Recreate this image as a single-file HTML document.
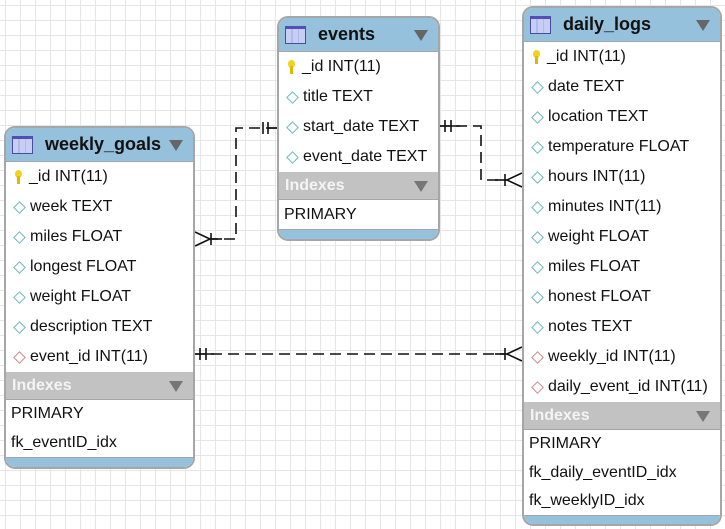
<!DOCTYPE html>
<html><head><meta charset="utf-8"><style>
*{margin:0;padding:0;box-sizing:border-box}
body{width:725px;height:529px;overflow:hidden;background:#fff;position:relative;font-family:"Liberation Sans",Arial,sans-serif}
.grid{position:absolute;left:0;top:0;width:725px;height:529px;
background-image:linear-gradient(to right,#e6e6e6 1px,transparent 1px),linear-gradient(to bottom,#e6e6e6 1px,transparent 1px);
background-size:15px 15px;background-position:5px 5px}
.t{position:absolute;border:2px solid #a6a6a6;border-radius:11px;overflow:hidden;background:#fff;display:flex;flex-direction:column}
.h{background:#95c1dc;display:flex;align-items:center;font-weight:bold;font-size:18px;color:#111;border-bottom:1px solid #a6a6a6;flex:none;position:relative}
.ic{width:21px;height:18px;margin:0 12px 0 6px;border:1px solid #4a4aa0;background:linear-gradient(to right,#c8cdf4 0,#c8cdf4 30%,#9aa3e0 30%,#9aa3e0 33%,#c8cdf4 33%,#c8cdf4 63%,#9aa3e0 63%,#9aa3e0 66%,#c8cdf4 66%);border-top:3px solid #5050b8}
.tri{position:absolute;right:10px;top:50%;margin-top:-5px;width:0;height:0;border-left:7px solid transparent;border-right:7px solid transparent;border-top:11px solid #666}
.r{height:30px;display:flex;align-items:center;font-size:16px;color:#111;flex:none}
.r .d{width:9px;height:9px;border:1.5px solid #6bb8bd;transform:rotate(45deg);margin:0 6px 0 9px;background:#fff}
.r .d.f{border-color:#d08a8a}
.r .k{width:7px;height:14px;margin:0 7px 0 9px;position:relative}
.r .k:before{content:"";position:absolute;left:0;top:0;width:7px;height:8px;border-radius:50%;background:#f1d21d}
.r .k:after{content:"";position:absolute;left:2px;top:6px;width:3px;height:8px;background:#e0b800}
.ix{height:28px;background:#c2c2c2;color:#f4f4f4;font-weight:bold;font-size:16px;display:flex;align-items:center;padding-left:6px;position:relative;flex:none;border-bottom:1px solid #a6a6a6}
.ix .tri{border-top-color:#777}
.ir{display:flex;align-items:center;font-size:16px;color:#111;padding-left:5px;flex:none}
.ft{background:#95c1dc;flex:1;border-top:1px solid #a6a6a6}
</style></head><body>
<div class="grid"></div>
<svg width="725" height="529" style="position:absolute;left:0;top:0">
<g stroke="#111" stroke-width="1.6" fill="none">
<path d="M277 128 H236 V239 H211" stroke-dasharray="11 6"/>
<line x1="263" y1="122" x2="263" y2="134"/><line x1="268" y1="122" x2="268" y2="134"/><line x1="268" y1="128" x2="277" y2="128"/>
<line x1="211" y1="233" x2="211" y2="245"/><path d="M195 232 L210 239 L195 246"/><line x1="211" y1="239" x2="222" y2="239"/>
<path d="M439 126 H481 V180 H505" stroke-dasharray="11 6"/>
<line x1="445" y1="120" x2="445" y2="132"/><line x1="451" y1="120" x2="451" y2="132"/><line x1="439" y1="126" x2="460" y2="126"/>
<line x1="505" y1="174" x2="505" y2="186"/><path d="M522 173 L507 180 L522 187"/><line x1="495" y1="180" x2="507" y2="180"/>
<path d="M194 354 H505" stroke-dasharray="11 6"/>
<line x1="200" y1="348" x2="200" y2="360"/><line x1="206" y1="348" x2="206" y2="360"/><line x1="194" y1="354" x2="214" y2="354"/>
<line x1="505" y1="348" x2="505" y2="360"/><path d="M522 347 L507 354 L522 361"/><line x1="495" y1="354" x2="507" y2="354"/>
</g></svg>

<div class="t" style="left:4px;top:126px;width:191px;height:343px">
<div class="h" style="height:34px"><div class="ic"></div>weekly_goals<div class="tri"></div></div>
<div class="r"><span class="k"></span>_id INT(11)</div>
<div class="r"><span class="d"></span>week TEXT</div>
<div class="r"><span class="d"></span>miles FLOAT</div>
<div class="r"><span class="d"></span>longest FLOAT</div>
<div class="r"><span class="d"></span>weight FLOAT</div>
<div class="r"><span class="d"></span>description TEXT</div>
<div class="r"><span class="d f"></span>event_id INT(11)</div>
<div class="ix">Indexes<div class="tri"></div></div>
<div class="ir" style="height:28px">PRIMARY</div>
<div class="ir" style="height:29px">fk_eventID_idx</div>
<div class="ft"></div>
</div>

<div class="t" style="left:277px;top:16px;width:163px;height:225px">
<div class="h" style="height:34px"><div class="ic"></div>events<div class="tri"></div></div>
<div class="r"><span class="k"></span>_id INT(11)</div>
<div class="r"><span class="d"></span>title TEXT</div>
<div class="r"><span class="d"></span>start_date TEXT</div>
<div class="r"><span class="d"></span>event_date TEXT</div>
<div class="ix">Indexes<div class="tri"></div></div>
<div class="ir" style="height:29px">PRIMARY</div>
<div class="ft"></div>
</div>

<div class="t" style="left:522px;top:6px;width:200px;height:520px">
<div class="h" style="height:34px"><div class="ic"></div>daily_logs<div class="tri"></div></div>
<div class="r"><span class="k"></span>_id INT(11)</div>
<div class="r"><span class="d"></span>date TEXT</div>
<div class="r"><span class="d"></span>location TEXT</div>
<div class="r"><span class="d"></span>temperature FLOAT</div>
<div class="r"><span class="d"></span>hours INT(11)</div>
<div class="r"><span class="d"></span>minutes INT(11)</div>
<div class="r"><span class="d"></span>weight FLOAT</div>
<div class="r"><span class="d"></span>miles FLOAT</div>
<div class="r"><span class="d"></span>honest FLOAT</div>
<div class="r"><span class="d"></span>notes TEXT</div>
<div class="r"><span class="d f"></span>weekly_id INT(11)</div>
<div class="r"><span class="d f"></span>daily_event_id INT(11)</div>
<div class="ix">Indexes<div class="tri"></div></div>
<div class="ir" style="height:28px">PRIMARY</div>
<div class="ir" style="height:29px">fk_daily_eventID_idx</div>
<div class="ir" style="height:28px">fk_weeklyID_idx</div>
<div class="ft"></div>
</div>
</body></html>
